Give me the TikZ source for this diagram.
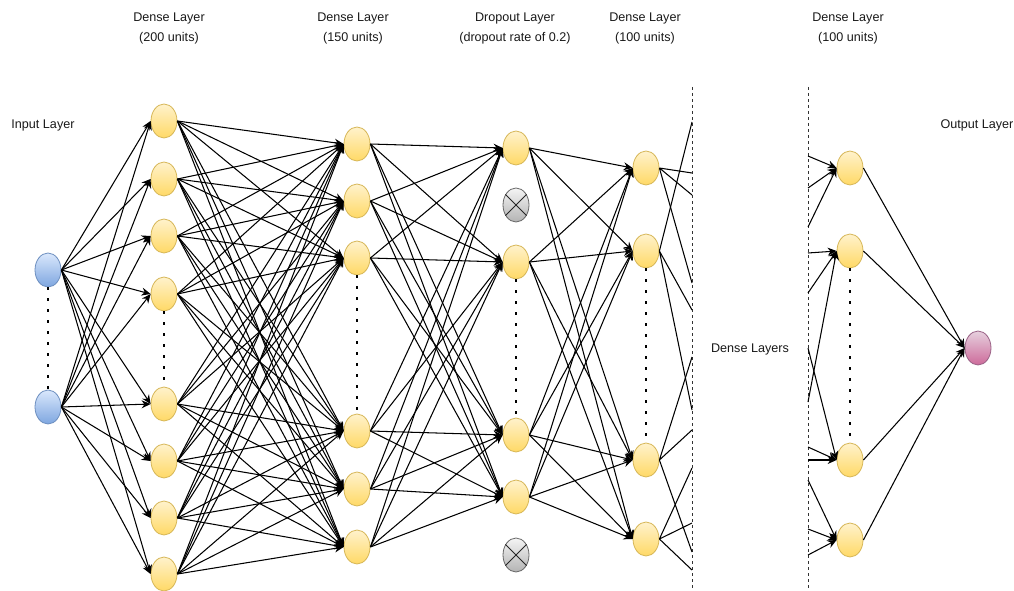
\documentclass[tikz,border=0pt]{standalone}
\usepackage{fontspec}
\setmainfont{Liberation Sans}
\usetikzlibrary{shapes.geometric}
\usetikzlibrary{arrows.meta}
\definecolor{ylwtop}{HTML}{FFF2CC}
\definecolor{ylwbot}{HTML}{FFD966}
\definecolor{ylwline}{HTML}{D6B656}
\definecolor{blutop}{HTML}{DAE8FC}
\definecolor{blubot}{HTML}{7EA6E0}
\definecolor{bluline}{HTML}{6C8EBF}
\definecolor{pnktop}{HTML}{E6D0DE}
\definecolor{pnkbot}{HTML}{CD6A9A}
\definecolor{pnkline}{HTML}{996185}
\definecolor{grytop}{HTML}{F5F5F5}
\definecolor{grybot}{HTML}{B3B3B3}
\definecolor{gryline}{HTML}{666666}
\tikzset{
    neuron/.style = {ellipse, line width=0.8pt, draw=ylwline, top color=ylwtop, bottom color=ylwbot, minimum width=26pt, minimum height=34pt, inner sep=0pt},
    neuronin/.style = {neuron, draw=bluline, top color=blutop, bottom color=blubot},
    neuronout/.style = {neuron, draw=pnkline, top color=pnktop, bottom color=pnkbot},
    dropped/.style = {neuron, draw=gryline, top color=grytop, bottom color=grybot},
    dropx/.style = {line width=0.9pt, draw=black!85},
    edgen/.style = {-{Stealth[length=9pt,width=8pt]}, line width=1.05pt},
    edgep/.style = {line width=1.05pt}, % stub to the cut
    dotsv/.style = {line width=2.5pt, dash pattern=on 2.5pt off 8.5pt},
    cutline/.style = {line width=1pt, draw=black!80, dash pattern=on 3pt off 3pt},
    layertxt/.style = {align=center, text=black!90, font=\fontsize{12.6}{20}\selectfont}
}
\begin{document}
\begin{tikzpicture}[x=1pt,y=-1pt]
\useasboundingbox (0,0) rectangle (1014,591);
%
\node[layertxt] at (43, 125) (tin) {Input Layer};
\node[layertxt] at (169, 28) (ta) {Dense Layer\\(200 units)};
\node[layertxt] at (353, 28) (tb) {Dense Layer\\(150 units)};
\node[layertxt] at (515, 28) (tc) {Dropout Layer\\(dropout rate of 0.2)};
\node[layertxt] at (645, 28) (td) {Dense Layer\\(100 units)};
\node[layertxt] at (848, 28) (te) {Dense Layer\\(100 units)};
\node[layertxt] at (977, 125) (tout) {Output Layer};
\node[layertxt] at (750, 349) (tmid) {Dense Layers};
%
\node[neuronin] at (48, 270) (i1) {};
\node[neuronin] at (48, 407) (i2) {};
%
\node[neuron] at (164, 121) (a1) {};
\node[neuron] at (164, 179) (a2) {};
\node[neuron] at (164, 236) (a3) {};
\node[neuron] at (164, 294) (a4) {};
\node[neuron] at (164, 404) (a5) {};
\node[neuron] at (164, 461) (a6) {};
\node[neuron] at (164, 518) (a7) {};
\node[neuron] at (164, 574) (a8) {};
%
\node[neuron] at (357, 144) (b1) {};
\node[neuron] at (357, 201) (b2) {};
\node[neuron] at (357, 258) (b3) {};
\node[neuron] at (357, 431) (b4) {};
\node[neuron] at (357, 489) (b5) {};
\node[neuron] at (357, 547) (b6) {};
%
\node[neuron] at (516, 148) (c1) {};
\node[dropped] at (516, 205) (cx1) {};
\node[neuron] at (516, 262) (c2) {};
\node[neuron] at (516, 435) (c3) {};
\node[neuron] at (516, 497) (c4) {};
\node[dropped] at (516, 555) (cx2) {};
%
\node[neuron] at (646, 168) (d1) {};
\node[neuron] at (646, 251) (d2) {};
\node[neuron] at (646, 460) (d3) {};
\node[neuron] at (646, 539) (d4) {};
%
\node[neuron] at (850, 168) (e1) {};
\node[neuron] at (850, 251) (e2) {};
\node[neuron] at (850, 460) (e3) {};
\node[neuron] at (850, 540) (e4) {};
%
\node[neuronout] at (978, 348) (o) {};
%
\draw[dropx] (cx1.45) -- (cx1.225) (cx1.135) -- (cx1.315);
\draw[dropx] (cx2.45) -- (cx2.225) (cx2.135) -- (cx2.315);
%
\draw[dotsv] (i1.south) -- (i2.north);
\draw[dotsv] (a4.south) -- (a5.north);
\draw[dotsv] (b3.south) -- (b4.north);
\draw[dotsv] (c2.south) -- (c3.north);
\draw[dotsv] (d2.south) -- (d3.north);
\draw[dotsv] (e2.south) -- (e3.north);
%
\coordinate (cut1t) at (692, 87);
\coordinate (cut1b) at (692, 591);
\coordinate (cut2t) at (808, 87);
\coordinate (cut2b) at (808, 591);
\draw[cutline] (cut1t) -- (cut1b);
\draw[cutline] (cut2t) -- (cut2b);
%
\foreach \s in {1,2} \foreach \t in {1,...,8} \draw[edgen] (i\s.east) -- (a\t.west);
\foreach \s in {1,...,8} \foreach \t in {1,...,6} \draw[edgen] (a\s.east) -- (b\t.west);
\foreach \s in {1,...,6} \foreach \t in {1,...,4} \draw[edgen] (b\s.east) -- (c\t.west);
\foreach \s in {1,...,4} \foreach \t in {1,...,4} \draw[edgen] (c\s.east) -- (d\t.west);
%
\foreach \n/\y in {1/173,2/195,3/283,4/122,5/310,6/410,7/357,8/430,9/552,10/468,11/523,12/570}
    \coordinate (l\n) at (692, \y);
\foreach \n/\y in {1/156,2/188,3/227,4/253,5/293,6/402,7/348,8/447,9/460,10/480,11/529,12/555}
    \coordinate (r\n) at (808, \y);
%
\draw[edgep] (d1.east) -- (l1) (d1.east) -- (l2) (d1.east) -- (l3);
\draw[edgep] (d2.east) -- (l4) (d2.east) -- (l5) (d2.east) -- (l6);
\draw[edgep] (d3.east) -- (l7) (d3.east) -- (l8) (d3.east) -- (l9);
\draw[edgep] (d4.east) -- (l10) (d4.east) -- (l11) (d4.east) -- (l12);
%
\foreach \n in {1,2,3} \draw[edgen] (r\n) -- (e1.west);
\foreach \n in {4,5,6} \draw[edgen] (r\n) -- (e2.west);
\foreach \n in {7,8,9} \draw[edgen] (r\n) -- (e3.west);
\foreach \n in {10,11,12} \draw[edgen] (r\n) -- (e4.west);
%
\foreach \s in {1,...,4} \draw[edgen] (e\s.east) -- (o.west);

\end{tikzpicture}
\end{document}
